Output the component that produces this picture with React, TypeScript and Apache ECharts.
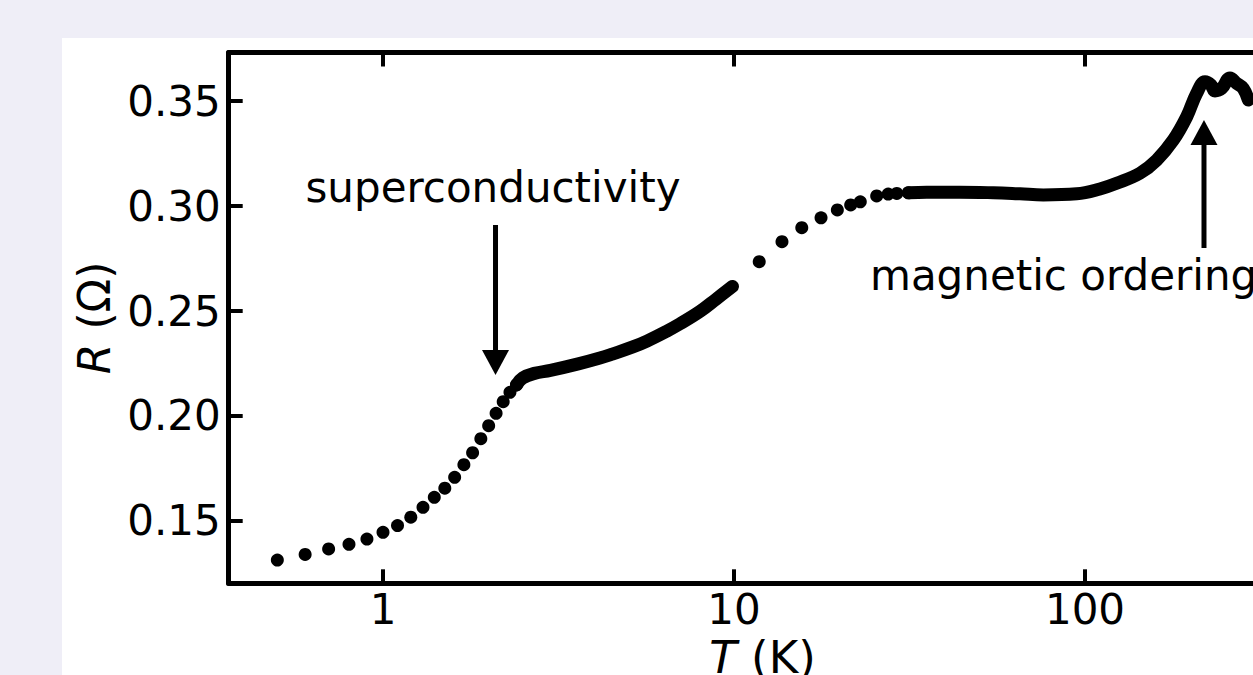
import React, { useEffect, useRef } from 'react';
import * as echarts from 'echarts';

// Low-temperature step scan (0.1 K spacing), resistance in ohms
const stepScanT = [0.5, 0.6, 0.7, 0.8, 0.9, 1.0, 1.1, 1.2, 1.3, 1.4, 1.5, 1.6, 1.7, 1.8, 1.9, 2.0, 2.1, 2.2, 2.3, 2.4];
const stepScanR = [0.1314, 0.1341, 0.1367, 0.1389, 0.1414, 0.1446, 0.1478, 0.1518, 0.1565, 0.1613, 0.1656, 0.1708, 0.1768, 0.1825, 0.1892, 0.1954, 0.2013, 0.2068, 0.2113, 0.2148];

// Continuous sweep 2.4 K – 10 K
const sweepLowT = [2.4, 2.5, 2.7, 3.0, 3.6, 4.15, 4.5, 5.15, 5.65, 6.45, 7.0, 8.0, 8.9, 9.9];
const sweepLowR = [0.2148, 0.2181, 0.2203, 0.2217, 0.2248, 0.2276, 0.2295, 0.2329, 0.2357, 0.2405, 0.2438, 0.2498, 0.2557, 0.2617];

// Sparse points between the two sweeps
const midT = [11.8, 13.7, 15.6, 17.7, 19.7, 21.5, 22.9, 25.5, 27.5, 29.1, 31.4];
const midR = [0.2735, 0.2830, 0.2897, 0.2944, 0.2981, 0.3005, 0.3020, 0.3048, 0.3057, 0.3060, 0.3063];

// Continuous sweep 31 K – 300 K
const sweepHighT = [31.4, 35.4, 44.0, 54.8, 65.3, 76.1, 94.7, 110.3, 123.1, 143.4, 160.1, 178.5, 194.9, 208.1, 219.8, 228.6, 234.6, 245.2, 258.9, 270.5, 282.5, 292.0];
const sweepHighR = [0.3063, 0.3065, 0.3066, 0.3063, 0.3058, 0.3053, 0.3058, 0.3081, 0.3108, 0.3156, 0.3219, 0.3314, 0.3425, 0.3537, 0.3592, 0.3576, 0.3548, 0.3560, 0.3610, 0.3584, 0.3560, 0.3505];

// Annotations (data coordinates)
const noteLabels = ['superconductivity', 'magnetic ordering'];
const noteAlign = ['center', 'left'];
const noteTextT = [2.058, 24.4];
const noteTextR = [0.2988, 0.2569];
const arrowTailT = [2.092, 218.3];
const arrowTailR = [0.2910, 0.2800];
const arrowTipT = [2.092, 218.3];
const arrowTipR = [0.2195, 0.3410];

const T_MIN = 0.3634;
const T_MAX = 400;
const R_MIN = 0.12033;
const R_MAX = 0.3731;

const FONT = 'DejaVu Sans';
const INK = '#000000';

const zip = (xs: number[], ys: number[]) => xs.map((x, i) => [x, ys[i]]);

export default function App() {
  const ref = useRef<HTMLDivElement>(null);

  useEffect(() => {
    if (!ref.current) return;
    const chart = echarts.init(ref.current, null, { renderer: 'svg' });

    const axisLine = { show: true, onZero: false, lineStyle: { color: INK, width: 5 } };
    const axisTick = { show: true, inside: true, length: 14, lineStyle: { color: INK, width: 4 } };

    const dotSeries = (data: number[][]) => ({
      type: 'scatter',
      data,
      symbol: 'circle',
      symbolSize: 13,
      itemStyle: { color: INK, opacity: 1 },
      silent: true,
    });
    const sweepSeries = (data: number[][]) => ({
      type: 'line',
      data,
      showSymbol: false,
      smooth: 0.4,
      lineStyle: { color: INK, width: 13, cap: 'round', join: 'round' },
      silent: true,
    });

    chart.setOption({
      animation: false,
      backgroundColor: '#EFEEF7',
      textStyle: { fontFamily: FONT },
      graphic: [
        {
          type: 'rect',
          left: 62,
          top: 38,
          z: -10,
          shape: { width: 1300, height: 700 },
          style: { fill: '#ffffff' },
          silent: true,
        },
      ],
      grid: {
        left: 228.7,
        top: 52.5,
        right: -43.3,
        bottom: 91.7,
        containLabel: false,
        outerBoundsMode: 'none',
      },
      xAxis: [
        {
          type: 'log',
          logBase: 10,
          position: 'bottom',
          min: T_MIN,
          max: T_MAX,
          name: '{i|T} (K)',
          nameLocation: 'middle',
          nameGap: 51,
          nameTextStyle: {
            color: INK,
            fontSize: 45,
            fontFamily: FONT,
            rich: { i: { fontStyle: 'italic', fontSize: 45, fontFamily: FONT, color: INK } },
          },
          axisLine,
          axisTick,
          minorTick: { show: false },
          splitLine: { show: false },
          axisLabel: {
            color: INK,
            fontSize: 42,
            fontFamily: FONT,
            margin: 5,
            showMinLabel: false,
            showMaxLabel: false,
            formatter: (v: number) => {
              const e = Math.log10(v);
              return Math.abs(e - Math.round(e)) < 1e-6 ? String(Math.round(v)) : '';
            },
          },
        },
        {
          type: 'log',
          logBase: 10,
          position: 'top',
          min: T_MIN,
          max: T_MAX,
          axisLine,
          axisTick,
          splitLine: { show: false },
          axisLabel: { show: false },
        },
      ],
      yAxis: [
        {
          type: 'value',
          position: 'left',
          min: R_MIN,
          max: R_MAX,
          name: '{i|R} (Ω)',
          nameLocation: 'middle',
          nameRotate: 90,
          nameGap: 112,
          nameTextStyle: {
            color: INK,
            fontSize: 44,
            fontFamily: FONT,
            rich: { i: { fontStyle: 'italic', fontSize: 44, fontFamily: FONT, color: INK } },
          },
          axisLine,
          axisTick,
          splitLine: { show: false },
          axisLabel: {
            color: INK,
            fontSize: 42,
            fontFamily: FONT,
            margin: 8,
            showMinLabel: false,
            showMaxLabel: false,
            formatter: (v: number) => {
              const k = v / 0.05;
              return Math.abs(k - Math.round(k)) < 1e-6 ? v.toFixed(2) : '';
            },
          },
        },
      ],
      series: [
        dotSeries(zip(stepScanT, stepScanR)),
        sweepSeries(zip(sweepLowT, sweepLowR)),
        dotSeries(zip(midT, midR)),
        sweepSeries(zip(sweepHighT, sweepHighR)),
        {
          type: 'custom',
          silent: true,
          clip: false,
          z: 5,
          data: noteLabels.map((_, i) => [arrowTipT[i], arrowTipR[i]]),
          renderItem: (params: any, api: any) => {
            const i = params.dataIndex;
            const tail = api.coord([arrowTailT[i], arrowTailR[i]]);
            const tip = api.coord([arrowTipT[i], arrowTipR[i]]);
            const lab = api.coord([noteTextT[i], noteTextR[i]]);
            const dx = tip[0] - tail[0];
            const dy = tip[1] - tail[1];
            const len = Math.hypot(dx, dy) || 1;
            const ux = dx / len;
            const uy = dy / len;
            const headLen = 25;
            const halfW = 13.5;
            const bx = tip[0] - ux * headLen;
            const by = tip[1] - uy * headLen;
            return {
              type: 'group',
              children: [
                {
                  type: 'line',
                  shape: { x1: tail[0], y1: tail[1], x2: bx + ux * 2, y2: by + uy * 2 },
                  style: { stroke: INK, lineWidth: 5 },
                },
                {
                  type: 'polygon',
                  shape: {
                    points: [
                      [tip[0], tip[1]],
                      [bx - uy * halfW, by + ux * halfW],
                      [bx + uy * halfW, by - ux * halfW],
                    ],
                  },
                  style: { fill: INK },
                },
                {
                  type: 'text',
                  x: lab[0],
                  y: lab[1],
                  style: {
                    text: noteLabels[i],
                    fontSize: 42,
                    fontFamily: FONT,
                    fill: INK,
                    align: noteAlign[i],
                    verticalAlign: 'bottom',
                  },
                },
              ],
            };
          },
        },
      ],
    });

    return () => chart.dispose();
  }, []);

  return <div ref={ref} style={{ position: 'fixed', left: 0, top: 0, width: 1253, height: 675 }} />;
}
